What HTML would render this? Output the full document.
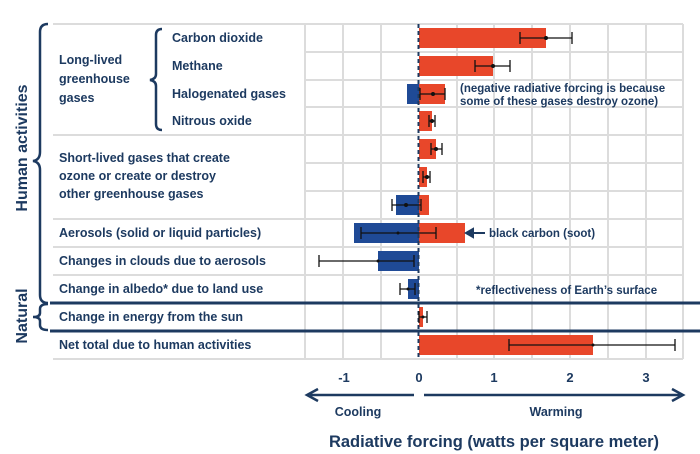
<!DOCTYPE html>
<html><head><meta charset="utf-8"><style>
html,body{margin:0;padding:0;background:#fff;}
svg{display:block;font-family:"Liberation Sans",sans-serif;font-weight:bold;}
</style></head><body>
<svg width="700" height="454" viewBox="0 0 700 454" xmlns="http://www.w3.org/2000/svg">
<g stroke="#dcdcdc" stroke-width="2" fill="none">
<line x1="343" y1="24" x2="343" y2="359"/><line x1="381" y1="24" x2="381" y2="359"/>
<line x1="457" y1="24" x2="457" y2="359"/><line x1="494" y1="24" x2="494" y2="359"/>
<line x1="532" y1="24" x2="532" y2="359"/><line x1="570" y1="24" x2="570" y2="359"/>
<line x1="608" y1="24" x2="608" y2="359"/><line x1="646" y1="24" x2="646" y2="359"/>
<line x1="305" y1="24" x2="305" y2="359"/><line x1="683" y1="24" x2="683" y2="359"/>
<line x1="53" y1="24" x2="683" y2="24"/>
<line x1="305" y1="52" x2="683" y2="52"/><line x1="305" y1="80" x2="683" y2="80"/><line x1="305" y1="107" x2="683" y2="107"/>
<line x1="53" y1="135" x2="683" y2="135"/>
<line x1="305" y1="163" x2="683" y2="163"/><line x1="305" y1="191" x2="683" y2="191"/>
<line x1="53" y1="219" x2="683" y2="219"/><line x1="53" y1="247" x2="683" y2="247"/><line x1="53" y1="275" x2="683" y2="275"/>
<line x1="53" y1="359" x2="683" y2="359"/>
</g>
<g stroke="#1d3a60" stroke-width="3"><line x1="50" y1="303" x2="700" y2="303"/><line x1="50" y1="331" x2="700" y2="331"/></g>
<!-- bars: 0 at 419, 76/unit; rows center 24+27.9*(i+0.5) -->
<g fill="#e8472a">
<rect x="419" y="28" width="127" height="20"/>
<rect x="419" y="56" width="74" height="20"/>
<rect x="419" y="84" width="26" height="20"/>
<rect x="419" y="111" width="13" height="20"/>
<rect x="419" y="139" width="17" height="20"/>
<rect x="419" y="167" width="8" height="20"/>
<rect x="419" y="195" width="10" height="20"/>
<rect x="419" y="223" width="46" height="20"/>
<rect x="419" y="307" width="4" height="20"/>
<rect x="419" y="335" width="174" height="20"/>
</g>
<g fill="#1f4a96">
<rect x="407" y="84" width="12" height="20"/>
<rect x="396" y="195" width="23" height="20"/>
<rect x="354" y="223" width="65" height="20"/>
<rect x="378" y="251" width="41" height="20"/>
<rect x="408" y="279" width="11" height="20"/>
</g>
<line x1="418.5" y1="24" x2="418.5" y2="359" stroke="#1d3a60" stroke-width="2" stroke-dasharray="4,3"/>
<g stroke="#111" stroke-width="1.3" fill="none">
<path d="M520 38H572M520 32V44M572 32V44"/>
<path d="M475 66H510M475 60V72M510 60V72"/>
<path d="M420 94H445M420 88V100M445 88V100"/>
<path d="M429 121H435M429 115V127M435 115V127"/>
<path d="M431 149H442M431 143V155M442 143V155"/>
<path d="M423 177H430M423 171V183M430 171V183"/>
<path d="M392 205H421M392 199V211M421 199V211"/>
<path d="M361 233H436M361 227V239M436 227V239"/>
<path d="M319 261H414M319 255V267M414 255V267"/>
<path d="M400 289H415M400 283V295M415 283V295"/>
<path d="M419 317H427M419 311V323M427 311V323"/>
<path d="M509 345H675M509 339V351M675 339V351"/>
</g>
<g fill="#111">
<circle cx="546" cy="38" r="2"/><circle cx="493" cy="66" r="2"/><circle cx="433" cy="94" r="2"/>
<circle cx="432" cy="121" r="2"/><circle cx="436" cy="149" r="2"/><circle cx="427" cy="177" r="2"/>
<circle cx="406" cy="205" r="2"/><circle cx="398" cy="233" r="1.5"/><circle cx="378" cy="261" r="1.5"/>
<circle cx="408" cy="289" r="1.5"/><circle cx="423" cy="317" r="1.5"/><circle cx="593" cy="345" r="1.5"/>
</g>
<g fill="#1d3a60" font-size="12.5">
<text x="172" y="42">Carbon dioxide</text>
<text x="172" y="70">Methane</text>
<text x="172" y="98">Halogenated gases</text>
<text x="172" y="125">Nitrous oxide</text>
<text x="59" y="64">Long-lived</text>
<text x="59" y="83">greenhouse</text>
<text x="59" y="102">gases</text>
<text x="59" y="162">Short-lived gases that create</text>
<text x="59" y="180">ozone or create or destroy</text>
<text x="59" y="198">other greenhouse gases</text>
<text x="59" y="237">Aerosols (solid or liquid particles)</text>
<text x="59" y="265">Changes in clouds due to aerosols</text>
<text x="59" y="293">Change in albedo* due to land use</text>
<text x="59" y="321">Change in energy from the sun</text>
<text x="59" y="349">Net total due to human activities</text>
<text x="460" y="92" font-size="11.5">(negative radiative forcing is because</text>
<text x="460" y="105" font-size="11.5">some of these gases destroy ozone)</text>
<text x="489" y="237" font-size="11.5">black carbon (soot)</text>
<text x="476" y="294" font-size="11.5">*reflectiveness of Earth’s surface</text>
<text x="344" y="382" font-size="13" text-anchor="middle">-1</text>
<text x="419" y="382" font-size="13" text-anchor="middle">0</text>
<text x="494" y="382" font-size="13" text-anchor="middle">1</text>
<text x="570" y="382" font-size="13" text-anchor="middle">2</text>
<text x="646" y="382" font-size="13" text-anchor="middle">3</text>
<text x="358" y="416" font-size="12.5" text-anchor="middle">Cooling</text>
<text x="556" y="416" font-size="12.5" text-anchor="middle">Warming</text>
<text x="494" y="447" font-size="16.5" text-anchor="middle">Radiative forcing (watts per square meter)</text>
<text transform="translate(27,148) rotate(-90)" font-size="16" text-anchor="middle">Human activities</text>
<text transform="translate(27,316) rotate(-90)" font-size="16" text-anchor="middle">Natural</text>
</g>
<path d="M466 233H485M466 233l7-4v8z" stroke="#1d3a60" stroke-width="2" fill="#1d3a60"/>
<g stroke="#1d3a60" stroke-width="2.5" fill="none">
<path d="M414 395H310M318 389L307 395L318 401"/>
<path d="M424 395H680M672 389L683 395L672 401"/>
<path d="M48 24Q40 24 40 32V152Q40 160 33 161Q40 162 40 170V295Q40 303 48 303"/>
<path d="M48 304Q40 304 40 309V313Q40 317 33 317Q40 317 40 321V325Q40 330 48 330"/>
<path d="M162 29Q156 29 156 35V74Q156 79 150 80Q156 81 156 86V124Q156 130 162 130"/>
</g>
</svg>
</body></html>
